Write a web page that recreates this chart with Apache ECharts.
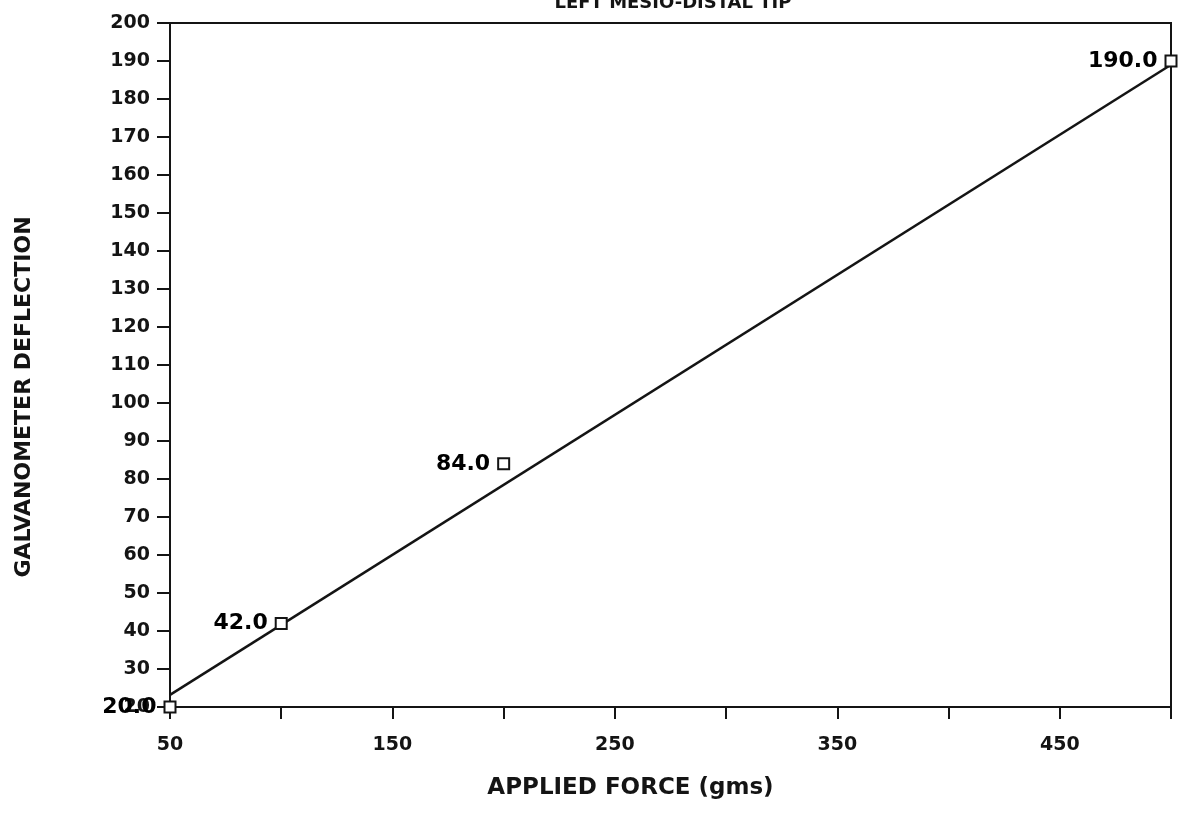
<!DOCTYPE html>
<html>
<head>
<meta charset="utf-8">
<title>Left mesio-distal tip calibration</title>
<script src="https://cdn.jsdelivr.net/npm/echarts@6/dist/echarts.min.js"></script>
<style>
  html, body { margin: 0; padding: 0; background: #ffffff; }
  #chart { width: 1185px; height: 815px; }
</style>
</head>
<body>
<div id="chart"></div>
<script>
// Calibration readings: applied force (gms) vs galvanometer deflection
const forces = [50, 100, 200, 500];
const deflections = [20.0, 42.0, 84.0, 190.0];

// Straight fitted line drawn through the readings (end points)
const fitForces = [50, 500];
const fitDeflections = [23.2, 189.0];

// Labelled x ticks (minor ticks every 50 in between)
const xTickLabels = [50, 150, 250, 350, 450];

const FONT = '"DejaVu Sans", "Liberation Sans", sans-serif';
const INK = '#141414';

const chart = echarts.init(document.getElementById('chart'), null, { renderer: 'canvas' });

chart.setOption({
  backgroundColor: '#ffffff',
  animation: false,
  title: {
    text: 'LEFT MESIO-DISTAL TIP',
    left: 668,
    textAlign: 'center',
    top: -11,
    textStyle: { fontFamily: FONT, fontWeight: 'bold', fontSize: 18, color: INK }
  },
  grid: {
    left: 170, right: 14, top: 23, bottom: 108,
    show: true, borderColor: INK, borderWidth: 2, backgroundColor: 'transparent'
  },
  xAxis: {
    type: 'value',
    min: 50, max: 500, interval: 50,
    name: 'APPLIED FORCE (gms)',
    nameLocation: 'middle',
    nameGap: 70,
    nameTextStyle: {
      fontFamily: FONT, fontWeight: 'bold', fontSize: 23, color: INK,
      padding: [0, 80, 0, 0]
    },
    axisLine: { show: true, lineStyle: { color: INK, width: 2 } },
    axisTick: { show: true, inside: false, length: 12, lineStyle: { color: INK, width: 2 } },
    axisLabel: {
      fontFamily: FONT, fontWeight: 'bold', fontSize: 19, color: INK, margin: 29,
      formatter: v => (xTickLabels.includes(v) ? String(v) : '')
    },
    splitLine: { show: false }
  },
  yAxis: {
    type: 'value',
    min: 20, max: 200, interval: 10,
    name: 'GALVANOMETER DEFLECTION',
    nameLocation: 'middle',
    nameGap: 135,
    nameRotate: 90,
    nameTextStyle: {
      fontFamily: FONT, fontWeight: 'bold', fontSize: 22, color: INK,
      padding: [0, 64, 0, 0]
    },
    axisLine: { show: true, lineStyle: { color: INK, width: 2 } },
    axisTick: { show: true, inside: false, length: 13, lineStyle: { color: INK, width: 2 } },
    axisLabel: { fontFamily: FONT, fontWeight: 'bold', fontSize: 19, color: INK, margin: 20 },
    splitLine: { show: false }
  },
  series: [
    {
      type: 'line',
      data: fitForces.map((x, i) => [x, fitDeflections[i]]),
      showSymbol: false,
      symbol: 'none',
      lineStyle: { color: INK, width: 2.5 },
      z: 2,
      silent: true
    },
    {
      type: 'scatter',
      data: forces.map((x, i) => [x, deflections[i]]),
      symbol: 'rect',
      symbolSize: 11,
      itemStyle: { color: '#ffffff', borderColor: INK, borderWidth: 2, opacity: 1 },
      label: {
        show: true,
        position: 'left',
        distance: 7,
        fontFamily: FONT, fontWeight: 'bold', fontSize: 22, color: '#000000',
        opacity: 1, textBorderWidth: 0,
        formatter: p => p.value[1].toFixed(1)
      },
      emphasis: { disabled: true },
      z: 3
    }
  ]
});
</script>
</body>
</html>
